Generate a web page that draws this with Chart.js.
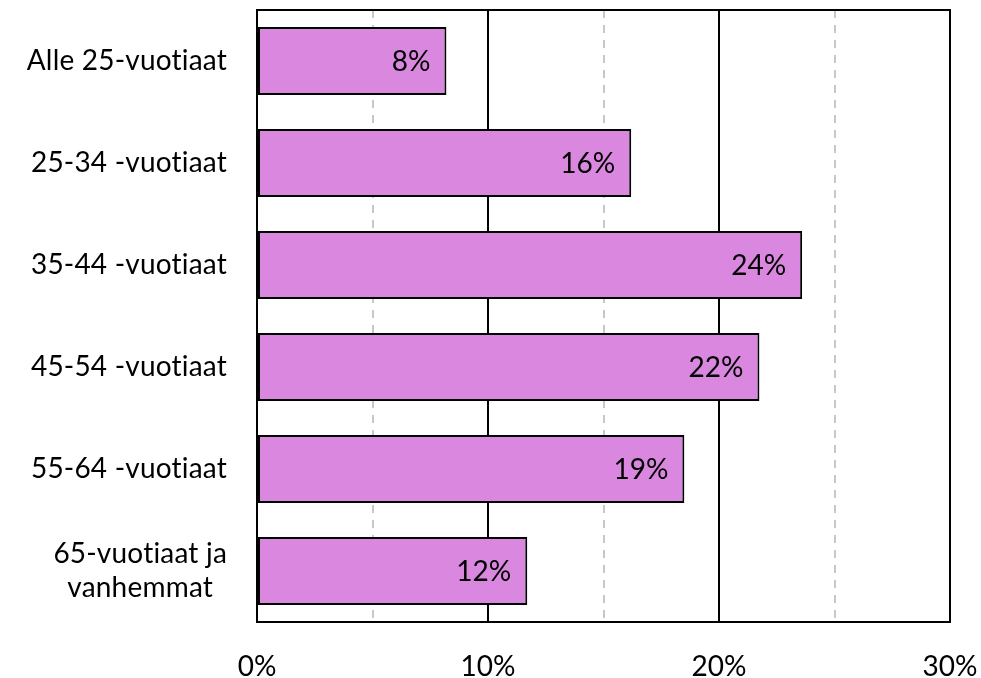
<!DOCTYPE html>
<html lang="fi">
<head>
<meta charset="UTF-8">
<title>Ikäryhmät</title>
<script src="https://cdn.jsdelivr.net/npm/chart.js"></script>
<style>
  body { margin: 0; background: #fff; }
  #wrap { width: 981px; height: 678px; }
</style>
</head>
<body>
<div id="wrap"><canvas id="myChart" width="981" height="678"></canvas></div>
<script>
// data
const categories = [
  ['Alle 25-vuotiaat'],
  ['25-34 -vuotiaat'],
  ['35-44 -vuotiaat'],
  ['45-54 -vuotiaat'],
  ['55-64 -vuotiaat'],
  ['65-vuotiaat ja', 'vanhemmat']
];
const values = [8.2, 16.2, 23.6, 21.75, 18.5, 11.7];
const xTicks = [0, 10, 20, 30];

const FONT = 'Lato, "Noto Sans", sans-serif';
const FSIZE = 28;

// value labels inside bar end
const valueLabels = {
  id: 'valueLabels',
  afterDatasetsDraw(chart) {
    const c = chart.ctx;
    const meta = chart.getDatasetMeta(0);
    c.save();
    c.font = FSIZE + 'px ' + FONT;
    c.fillStyle = '#000';
    c.textAlign = 'right';
    c.textBaseline = 'middle';
    meta.data.forEach((bar, i) => {
      c.fillText(Math.round(values[i]) + '%', bar.x - 16, bar.y + 1);
    });
    c.restore();
  }
};

// category labels (multi-line centred, block right aligned) + frame
const catLabels = {
  id: 'catLabels',
  afterDraw(chart) {
    const c = chart.ctx;
    const ys = chart.scales.y;
    const a = chart.chartArea;
    c.save();
    c.font = FSIZE + 'px ' + FONT;
    c.letterSpacing = '0.2px'; // no "ti" ligature
    c.fillStyle = '#000';
    c.textAlign = 'center';
    c.textBaseline = 'middle';
    const right = a.left - 30;
    const lh = 34;
    categories.forEach((lines, i) => {
      const y = ys.getPixelForValue(i);
      const w = Math.max(...lines.map(l => c.measureText(l).width));
      const cx = right - w / 2;
      lines.forEach((l, j) => {
        c.fillText(l, cx, y + (j - (lines.length - 1) / 2) * lh);
      });
    });
    c.strokeStyle = '#000';
    c.lineWidth = 2;
    c.strokeRect(a.left, a.top, a.right - a.left, a.bottom - a.top);
    c.restore();
  }
};

new Chart(document.getElementById('myChart'), {
  type: 'bar',
  data: {
    labels: categories.map(l => l.join(' ')),
    datasets: [{
      data: values,
      backgroundColor: '#DA87E0',
      borderColor: '#000',
      borderWidth: 2,
      borderSkipped: false,
      barPercentage: 0.667,
      categoryPercentage: 1
    }]
  },
  options: {
    indexAxis: 'y',
    responsive: false,
    animation: false,
    layout: { padding: { top: 10, right: 31, left: 0, bottom: 0 } },
    plugins: { legend: { display: false }, tooltip: { enabled: false } },
    scales: {
      x2: {
        type: 'linear',
        position: 'top',
        min: 0, max: 30,
        ticks: { display: false, stepSize: 5 },
        grid: {
          drawTicks: false,
          lineWidth: 2,
          color: ctx => (ctx.tick && ctx.tick.value % 10 !== 0) ? '#c8c8c8' : 'transparent'
        },
        border: { display: false, dash: [8, 7] },
        afterFit: s => { s.height = 0; s.paddingLeft = 0; s.paddingRight = 0; }
      },
      x: {
        min: 0, max: 30,
        afterBuildTicks: s => { s.ticks = xTicks.map(v => ({ value: v })); },
        ticks: {
          callback: v => v + '%',
          color: '#000',
          font: { family: FONT, size: FSIZE },
          padding: 28,
          maxRotation: 0
        },
        grid: { color: '#000', lineWidth: 2, drawTicks: false },
        border: { display: true, color: '#000', width: 2 },
        afterFit: s => { s.height = 56; s.paddingLeft = 0; s.paddingRight = 0; }
      },
      y: {
        ticks: { display: false },
        grid: { display: false },
        border: { display: true, color: '#000', width: 2 },
        afterFit: s => { s.width = 257; }
      }
    }
  },
  plugins: [valueLabels, catLabels]
});
</script>
</body>
</html>
